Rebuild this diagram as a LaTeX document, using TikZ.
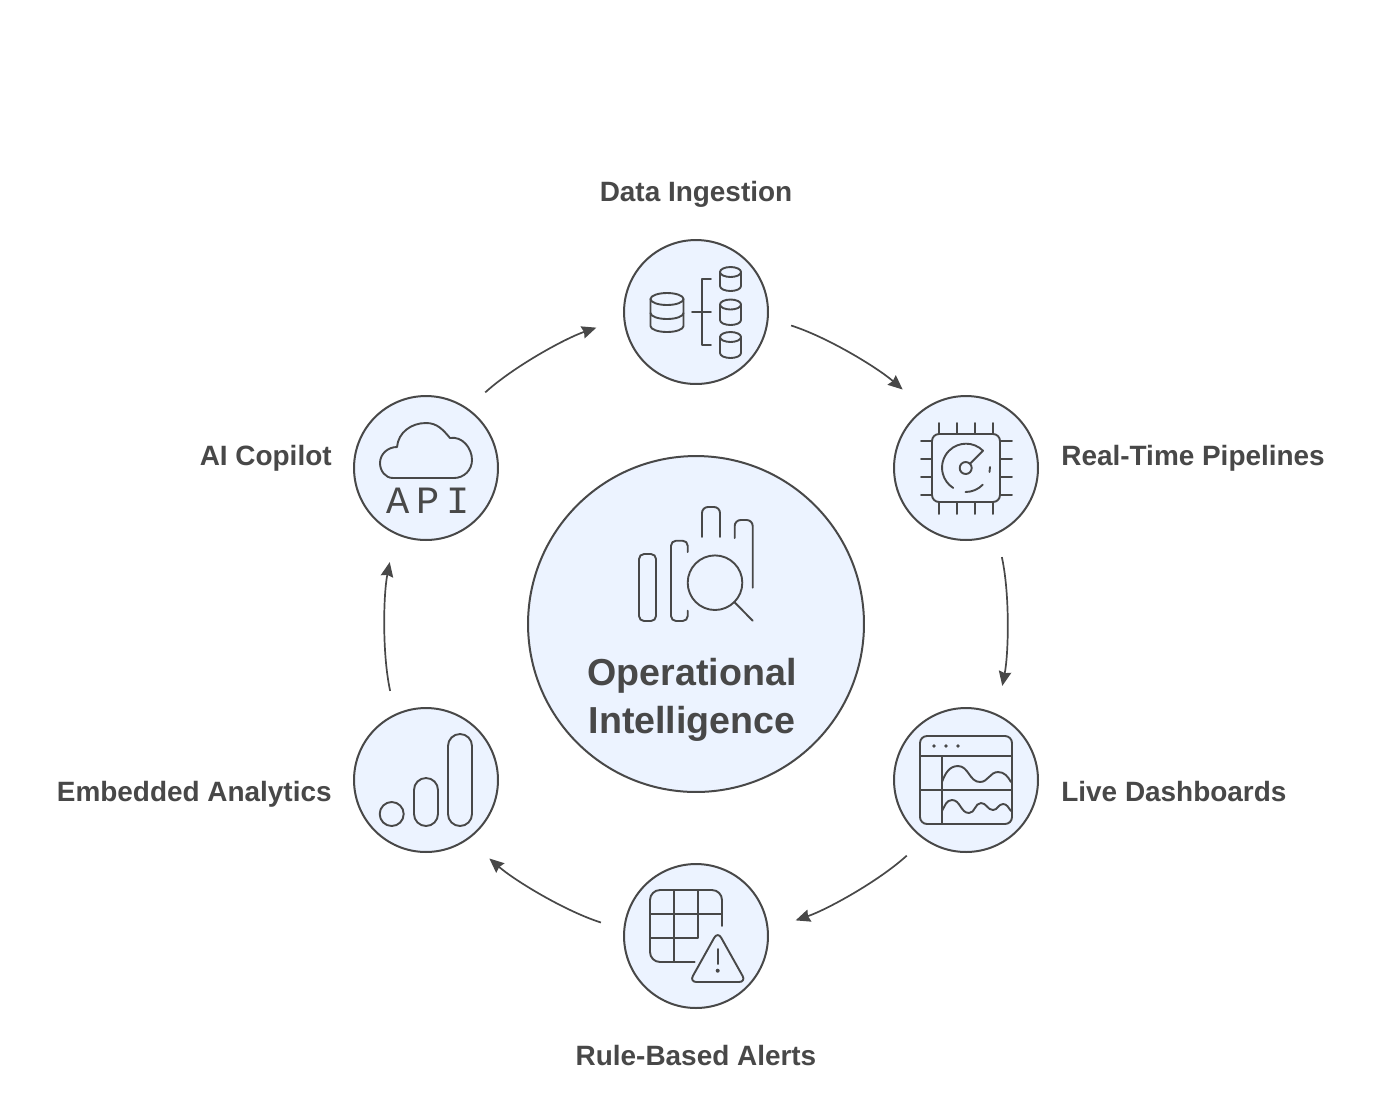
\documentclass[tikz,border=0pt]{standalone}
\usepackage{fontspec}
\setmainfont{Liberation Sans}
\newfontfamily\apifont[LetterSpace=17]{Liberation Mono}
\usetikzlibrary{arrows.meta}
\definecolor{inkgrey}{HTML}{484848}
\definecolor{discblue}{HTML}{ECF3FF}
\tikzset{
	disc/.style={circle, draw=inkgrey, line width=0.04cm, fill=discblue, inner sep=0, minimum size=2.88cm},
	icon/.style={draw=inkgrey, line width=0.038cm, line cap=round, line join=round},
	flow/.style={draw=inkgrey, line width=0.034cm, looseness=0.88, -{Stealth[length=0.29cm, width=0.25cm, inset=0.03cm]}, shorten <=0.47cm, shorten >=0.57cm},
	caption/.style={text=inkgrey, font=\fontsize{15.9}{19}\selectfont\bfseries, inner sep=0}
}
\begin{document}
\begin{tikzpicture}[x=0.02cm, y=-0.02cm]
	\useasboundingbox (0, 0) rectangle (1392, 1100);
	\fill[white] (0, 0) rectangle (1392, 1100);
	
	% discs
	\node[disc, minimum size=6.72cm] (hub) at (696, 624) {};
	\node[disc] (ingest) at (696, 312) {};
	\node[disc] (pipeline) at (966, 468) {};
	\node[disc] (dashboard) at (966, 780) {};
	\node[disc] (alerts) at (696, 936) {};
	\node[disc] (analytics) at (426, 780) {};
	\node[disc] (copilot) at (426, 468) {};
	
	% arrows round the ring
	\draw[flow] (ingest.-5) to[out=-17.7, in=139] (pipeline.125);
	\draw[flow] (pipeline.-65) to[out=-77.7, in=79] (dashboard.65);
	\draw[flow] (dashboard.-125) to[out=-137.7, in=19] (alerts.5);
	\draw[flow] (alerts.175) to[out=162.3, in=-41] (analytics.-55);
	\draw[flow] (analytics.115) to[out=102.3, in=-101] (copilot.-115);
	\draw[flow] (copilot.55) to[out=42.3, in=-161] (ingest.-175);
	
	% labels
	\node[caption, anchor=base] (ingestlabel) at (696, 201) {Data Ingestion};
	\node[caption, anchor=base west] (pipelinelabel) at (1061, 465) {Real-Time Pipelines};
	\node[caption, anchor=base west] (dashboardlabel) at (1061, 801) {Live Dashboards};
	\node[caption, anchor=base] (alertslabel) at (696, 1065) {Rule-Based Alerts};
	\node[caption, anchor=base east] (analyticslabel) at (332, 801) {Embedded Analytics};
	\node[caption, anchor=base east] (copilotlabel) at (332, 465) {AI Copilot};
	\node[text=inkgrey, align=center, inner sep=0, font=\fontsize{21.4}{27.3}\selectfont\bfseries] (hublabel) at (692, 700) {Operational\\Intelligence};
	
	% hub icon
	\draw[icon, rounded corners=0.1cm] (639, 554) rectangle (656, 621);
	\draw[icon, rounded corners=0.1cm] (687.7, 552) -- (687.7, 540.7) -- (671, 540.7) -- (671, 621) -- (687.7, 621) -- (687.7, 610.7);
	\draw[icon, rounded corners=0.12cm] (702, 537) -- (702, 507) -- (720, 507) -- (720, 537);
	\draw[icon, rounded corners=0.12cm] (734.7, 538) -- (734.7, 520) -- (752.7, 520) -- (752.7, 587.7);
	\draw[icon] (715, 582.7) circle (27.3);
	\draw[icon] (734.3, 602) -- (752.7, 620.7);
	
	% ingest icon
	\draw[icon] (667, 299) ellipse (16.5 and 6);
	\draw[icon] (650.5, 299) -- (650.5, 326) arc[start angle=180, end angle=0, x radius=16.5, y radius=6] -- (683.5, 299);
	\draw[icon] (650.5, 313) arc[start angle=180, end angle=0, x radius=16.5, y radius=6];
	\draw[icon] (702, 279) -- (711, 279);
	\draw[icon] (702, 279) -- (702, 345) -- (711, 345);
	\draw[icon] (692, 312) -- (711, 312);
	\draw[icon] (730.5, 272) ellipse (10.5 and 5);
	\draw[icon] (720, 272) -- (720, 286) arc[start angle=180, end angle=0, x radius=10.5, y radius=5] -- (741, 272);
	\draw[icon] (730.5, 304.5) ellipse (10.5 and 5);
	\draw[icon] (720, 304.5) -- (720, 320) arc[start angle=180, end angle=0, x radius=10.5, y radius=5] -- (741, 304.5);
	\draw[icon] (730.5, 337) ellipse (10.5 and 5);
	\draw[icon] (720, 337) -- (720, 353) arc[start angle=180, end angle=0, x radius=10.5, y radius=5] -- (741, 337);
	
	% pipeline icon
	\draw[icon, rounded corners=0.14cm] (932, 434) rectangle (1000, 502);
	\foreach \px in {939.3, 957.3, 975.3, 993.3} {
		\draw[icon] (\px, 423) -- (\px, 434);
		\draw[icon] (\px, 502) -- (\px, 514);
	}
	\foreach \py in {440.7, 458.7, 476.7, 494.7} {
		\draw[icon] (921, \py) -- (932, \py);
		\draw[icon] (1000, \py) -- (1012, \py);
	}
	\draw[icon] (965.7, 468) circle (6);
	\draw[icon] (970, 463.7) -- (983, 450.7) arc[start angle=-45, end angle=-237.6, radius=24];
	\draw[icon] (965.5, 492) arc[start angle=-270, end angle=-316, radius=24];
	\draw[icon] (990, 467) -- (989.5, 472);
	
	% dashboard icon
	\draw[icon, rounded corners=0.14cm] (920, 736) rectangle (1012, 824);
	\draw[icon] (920, 756) -- (1012, 756);
	\draw[icon] (920, 790) -- (1012, 790);
	\draw[icon] (942, 756) -- (942, 824);
	\fill[inkgrey] (934, 746) circle (1.8);
	\fill[inkgrey] (946, 746) circle (1.8);
	\fill[inkgrey] (958, 746) circle (1.8);
	\draw[icon] (942, 782) to[out=70, in=180] (958, 766) to[out=0, in=180] (980, 782) to[out=0, in=180] (998, 772) to[out=0, in=120] (1011, 782);
	\draw[icon] (942, 811) to[out=60, in=180] (952, 800) to[out=0, in=180] (969, 813) to[out=0, in=180] (981, 803) to[out=0, in=180] (993, 810) to[out=0, in=180] (1003, 804) to[out=0, in=130] (1011, 811);
	
	% alerts icon
	\draw[icon, rounded corners=0.2cm] (722, 926) -- (722, 890) -- (650, 890) -- (650, 962) -- (694.7, 962);
	\draw[icon] (650, 914) -- (722, 914);
	\draw[icon] (650, 938) -- (698, 938) -- (698, 890);
	\draw[icon] (674, 890) -- (674, 962);
	\draw[icon, rounded corners=0.14cm] (717.7, 931.5) -- (746, 982) -- (689.5, 982) -- cycle;
	\draw[icon] (717.7, 949) -- (717.7, 964);
	\fill[inkgrey] (717.7, 970.7) circle (2);
	
	% analytics icon
	\draw[icon] (391.7, 814) circle (12);
	\draw[icon, rounded corners=0.24cm] (414, 778) rectangle (438, 826);
	\draw[icon, rounded corners=0.24cm] (448, 734) rectangle (472, 826);
	
	% copilot icon
	\draw[icon] (393, 478) to[out=180, in=-90] (380, 463) to[out=90, in=180] (397, 447) to[out=85, in=180] (426, 423) to[out=0, in=130] (450, 438) to[out=10, in=90] (472, 460) to[out=-90, in=0] (454, 478) -- cycle;
	\node[text=inkgrey, inner sep=0, font=\apifont\fontsize{22}{22}\selectfont] (apilabel) at (428, 501) {API};
\end{tikzpicture}
\end{document}
